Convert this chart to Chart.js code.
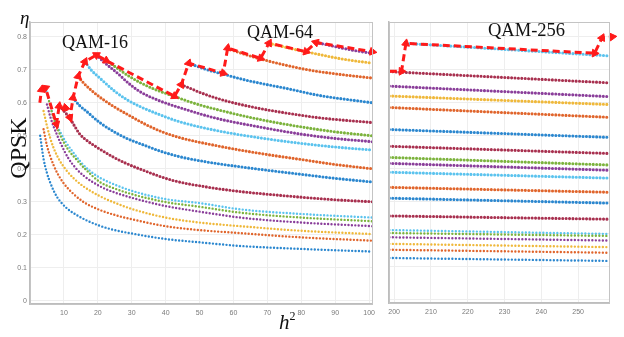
<!DOCTYPE html>
<html><head><meta charset="utf-8">
<script src="https://cdn.jsdelivr.net/npm/chart.js@4.4.1/dist/chart.umd.min.js"></script>
<style>
html,body{margin:0;padding:0;background:#fff;}
#wrap{position:relative;width:624px;height:337px;overflow:hidden;background:#fff;}
canvas{position:absolute;top:0;}
.t{position:absolute;font-family:"Liberation Serif","DejaVu Serif",serif;color:#111;white-space:nowrap;line-height:1;}
</style></head><body>
<div id="wrap">
<canvas id="left" width="380" height="337" style="left:0"></canvas>
<canvas id="right" width="244" height="337" style="left:380px"></canvas>
<div class="t" style="left:20px;top:8px;font-size:19px;font-style:italic;">η</div>
<div class="t" style="left:-22px;top:136px;width:80px;height:24px;font-size:24px;text-align:center;transform:rotate(-90deg);">QPSK</div>
<div class="t" style="left:62px;top:33px;font-size:18px;">QAM-16</div>
<div class="t" style="left:247px;top:23px;font-size:18px;">QAM-64</div>
<div class="t" style="left:488px;top:21px;font-size:18.5px;">QAM-256</div>
<div class="t" style="left:279px;top:310px;font-size:21px;"><i>h</i><span style="font-size:12px;vertical-align:9px;">2</span></div>
</div>
<script>
// ---- tick values ----
const tickXLeft = [10,20,30,40,50,60,70,80,90,100];
const tickXRight = [200,210,220,230,240,250];
const tickY = [0,0.1,0.2,0.3,0.4,0.5,0.6,0.7,0.8];
const tickYLabels = ['0','0.1','0.2','0.3','0.4','0.5','0.6','0.7','0.8'];

// ---- left panel: QPSK curves [h^2, eta] ----
const qpskBlue = [[3,0.50],[4,0.43],[5,0.387],[6,0.357],[7,0.333],[8,0.314],[9,0.30],[11,0.279],[14,0.258],[17,0.242],[20.6,0.227],[25,0.214],[30.4,0.203],[40,0.187],[50,0.177],[62,0.166],[80,0.157],[101,0.149]];
const qpskOrange = [[4,0.52],[5,0.47],[6,0.437],[7,0.41],[8,0.388],[10,0.355],[13,0.322],[16,0.298],[20.6,0.275],[25,0.26],[30.4,0.246],[40,0.226],[50,0.214],[62,0.205],[80,0.192],[101,0.182]];
const qpskYellow = [[4,0.575],[5,0.53],[6,0.492],[7,0.462],[8.8,0.424],[11,0.392],[13,0.37],[15.7,0.347],[20.6,0.317],[25,0.297],[30.4,0.277],[40,0.252],[50,0.237],[62,0.226],[80,0.212],[101,0.202]];
const qpskPurple = [[5,0.595],[6,0.557],[7,0.527],[8,0.502],[9,0.478],[11.3,0.432],[13.5,0.402],[15.7,0.38],[20.6,0.347],[25,0.328],[30.4,0.311],[40,0.287],[50,0.27],[62,0.252],[80,0.237],[101,0.226]];
const qpskGreen = [[5.6,0.605],[6.5,0.57],[7.5,0.538],[9,0.50],[11,0.462],[13.7,0.428],[16.5,0.397],[20.6,0.36],[25,0.34],[30.4,0.322],[40,0.299],[50,0.285],[62,0.267],[80,0.252],[101,0.241]];
const qpskLightBlue = [[4.6,0.645],[5.5,0.61],[6.5,0.572],[7.8,0.535],[9,0.51],[10.5,0.482],[12.5,0.453],[15,0.42],[17.5,0.395],[20.6,0.373],[25,0.352],[30.4,0.332],[40,0.308],[50,0.296],[62,0.277],[80,0.263],[101,0.252]];

// ---- left panel: QAM-16 curves ----
const qam16DarkRed = [[8.8,0.59],[10,0.575],[11.8,0.553],[13,0.532],[14.7,0.505],[17,0.484],[19.6,0.466],[24.5,0.436],[28,0.418],[33,0.397],[42,0.365],[52,0.345],[62,0.331],[72,0.321],[81,0.313],[90,0.306],[101,0.30]];
const qam16Blue = [[12.7,0.615],[14.5,0.593],[16.7,0.574],[20.6,0.54],[25.5,0.508],[29,0.49],[33.3,0.473],[38,0.455],[44,0.437],[52,0.421],[62,0.406],[72,0.393],[81,0.382],[90,0.371],[101,0.36]];
const qam16Orange = [[14.3,0.678],[16,0.658],[19.6,0.625],[24.5,0.59],[29.4,0.561],[34,0.535],[39,0.512],[44,0.495],[55,0.47],[67,0.448],[80,0.428],[90,0.413],[101,0.40]];
const qam16LightBlue = [[16.3,0.724],[18,0.70],[20.6,0.675],[25,0.635],[28.5,0.61],[32.4,0.589],[38,0.565],[44,0.543],[55,0.516],[67.6,0.494],[80,0.477],[90,0.466],[101,0.457]];
const qam16Purple = [[19.6,0.745],[22,0.722],[26,0.688],[29,0.66],[32.4,0.634],[38,0.607],[44,0.586],[55,0.553],[67.6,0.527],[80,0.505],[90,0.492],[101,0.482]];
const qam16Green = [[22.5,0.728],[26,0.703],[29,0.682],[32.4,0.662],[37,0.64],[42.2,0.621],[48,0.60],[55,0.58],[67.6,0.55],[80,0.527],[90,0.512],[101,0.50]];

// ---- left panel: QAM-64 curves ----
const qam64DarkRed = [[44.6,0.655],[47,0.645],[50,0.632],[55,0.614],[60,0.60],[67.6,0.583],[75,0.57],[85,0.555],[101,0.54]];
const qam64Blue = [[46.8,0.72],[50,0.708],[53,0.698],[57,0.687],[62,0.673],[67.6,0.66],[75,0.645],[85,0.623],[101,0.60]];
const qam64Orange = [[58.3,0.765],[61,0.755],[64,0.745],[68,0.733],[75,0.715],[82,0.70],[90,0.688],[101,0.675]];
const qam64Yellow = [[70.5,0.78],[74,0.772],[78,0.762],[81.4,0.755],[86,0.745],[92,0.733],[101,0.72]];
const qam64Purple = [[84.3,0.783],[88,0.775],[92,0.766],[96,0.758],[101,0.75]];

// ---- left panel: envelope (red dashed with arrows) ----
const envelopeLeft = [[2.9,0.60],[3.4,0.64],[4.6,0.645],[7.8,0.535],[8.6,0.59],[10.5,0.585],[11.8,0.555],[12.7,0.615],[14.2,0.68],[16.2,0.725],[19.6,0.745],[22.5,0.728],[42.6,0.62],[44.6,0.655],[46.8,0.72],[57,0.69],[58.3,0.766],[68,0.735],[70.5,0.781],[81.4,0.755],[84.3,0.783],[101,0.755]];

// ---- right panel curves ----
const rQpskBlue = [[198.7,0.127],[258.4,0.118]];
const rQpskOrange = [[198.7,0.152],[258.4,0.143]];
const rQpskYellow = [[198.7,0.17],[258.4,0.16]];
const rQpskPurple = [[198.7,0.19],[258.4,0.18]];
const rQpskGreen = [[198.7,0.203],[258.4,0.194]];
const rQpskLightBlue = [[198.7,0.212],[258.4,0.20]];
const rQam16DarkRed = [[198.7,0.255],[258.4,0.245]];
const rQam16Blue = [[198.7,0.309],[258.4,0.294]];
const rQam16Orange = [[198.7,0.342],[258.4,0.327]];
const rQam16LightBlue = [[198.7,0.388],[258.4,0.37]];
const rQam16Purple = [[198.7,0.415],[258.4,0.394]];
const rQam16Green = [[198.7,0.433],[258.4,0.41]];
const rQam64DarkRed = [[198.7,0.467],[258.4,0.445]];
const rQam64Blue = [[198.7,0.518],[258.4,0.494]];
const rQam64Orange = [[198.7,0.585],[258.4,0.555]];
const rQam64Yellow = [[198.7,0.62],[258.4,0.594]];
const rQam64Purple = [[198.7,0.65],[258.4,0.618]];
const rQam64DarkRed2 = [[198.7,0.694],[258.4,0.66]];
const rQam256LightBlue = [[203.4,0.78],[258.4,0.742]];
const envelopeRight = [[198.8,0.695],[202,0.695],[203.2,0.78],[254.5,0.75],[256.5,0.797],[259.3,0.80]];

// ---- styles ----
const C = {blue:'#2b87cf', orange:'#e0652c', yellow:'#efb83a', purple:'#8a3e9a', green:'#7cb33d', lblue:'#5bc3ee', dred:'#a8304f'};
const toXY = pts => pts.map(p => ({x:p[0], y:p[1]}));

function curve(pts, color, bold, gap){
  return {data: toXY(pts), borderColor: color, borderWidth: bold ? 3.1 : 2.4,
    borderDash: [0, gap], borderCapStyle: 'round', pointRadius: 0,
    cubicInterpolationMode: 'monotone', tension: 0.4, fill: false, order: 1};
}
function envelope(pts){
  return {data: toXY(pts), borderColor: '#ff1a1a', borderWidth: 3, borderDash: [7,4],
    borderCapStyle: 'butt', tension: 0, fill: false, clip: false, order: -1,
    pointStyle: 'triangle', pointBackgroundColor: '#ff1a1a', pointBorderColor: '#ff1a1a', pointBorderWidth: 1,
    pointRadius: ctx => (ctx.dataIndex === 0 ? 0 : 4.5),
    pointRotation: ctx => {
      const d = ctx.dataset && ctx.dataset.data; const i = ctx.dataIndex;
      if (!d || i === undefined || d.length < 2) return 0;
      const a = d[i === 0 ? 0 : i - 1], b = d[i === 0 ? 1 : i];
      const xs = ctx.chart.scales.x, ys = ctx.chart.scales.y;
      const dx = xs.getPixelForValue(b.x) - xs.getPixelForValue(a.x);
      const dy = ys.getPixelForValue(b.y) - ys.getPixelForValue(a.y);
      return Math.atan2(dx, -dy) * 180 / Math.PI;
    }};
}

const boxPlugin = {id:'box', afterDraw(chart){
  const a = chart.chartArea, g = chart.ctx; g.save();
  g.strokeStyle = '#c4c4c4'; g.lineWidth = 1;
  g.strokeRect(Math.round(a.left)+0.5, Math.round(a.top)+0.5, Math.round(a.right-a.left), Math.round(a.bottom-a.top));
  g.restore();
}};

function scalesFor(xMin, xMax, xTicks, yW, xH, showY){
  const tickFont = {size: 7, family: 'Liberation Sans, Arial, sans-serif'};
  return {
    x: {type:'linear', min:xMin, max:xMax,
      afterBuildTicks: s => { s.ticks = xTicks.map(v => ({value:v})); },
      afterFit: s => { s.height = xH; },
      grid: {color:'#eeeeee', drawTicks:false}, border: {color:'#bdbdbd', width:1.5},
      ticks: {font: tickFont, color:'#7a7a7a', padding:5, maxRotation:0, autoSkip:false, callback: v => String(v)}},
    y: {type:'linear', min:-0.01, max:0.845,
      afterBuildTicks: s => { s.ticks = tickY.map(v => ({value:v})); },
      afterFit: s => { s.width = yW; },
      grid: {color:'#eeeeee', drawTicks:false}, border: {color:'#bdbdbd', width:1.5},
      ticks: {display: showY, font: tickFont, color:'#7a7a7a', padding:3, autoSkip:false,
        callback: (v, i) => tickYLabels[i]}}
  };
}

const common = {responsive:false, animation:false, events:[],
  plugins:{legend:{display:false}, tooltip:{enabled:false}}};

new Chart(document.getElementById('left'), {
  type:'line',
  data:{datasets:[
    envelope(envelopeLeft),
    curve(qpskBlue, C.blue, false, 3.4), curve(qpskOrange, C.orange, false, 3.4),
    curve(qpskYellow, C.yellow, false, 3.4), curve(qpskPurple, C.purple, false, 3.4),
    curve(qpskGreen, C.green, false, 3.4), curve(qpskLightBlue, C.lblue, false, 3.4),
    curve(qam16DarkRed, C.dred, true, 3.4), curve(qam16Blue, C.blue, true, 3.4),
    curve(qam16Orange, C.orange, true, 3.4), curve(qam16LightBlue, C.lblue, true, 3.4),
    curve(qam16Purple, C.purple, true, 3.4), curve(qam16Green, C.green, true, 3.4),
    curve(qam64DarkRed, C.dred, true, 3.4), curve(qam64Blue, C.blue, true, 3.4),
    curve(qam64Orange, C.orange, true, 3.4), curve(qam64Yellow, C.yellow, true, 3.4),
    curve(qam64Purple, C.purple, true, 3.4)
  ]},
  options: Object.assign({}, common, {
    layout:{padding:{left:0, top:22, right:7, bottom:0}},
    scales: scalesFor(0, 101, tickXLeft, 30, 33, true)
  }),
  plugins:[boxPlugin]
});

new Chart(document.getElementById('right'), {
  type:'line',
  data:{datasets:[
    envelope(envelopeRight),
    curve(rQpskBlue, C.blue, false, 3.5), curve(rQpskOrange, C.orange, false, 3.5),
    curve(rQpskYellow, C.yellow, false, 3.5), curve(rQpskPurple, C.purple, false, 3.5),
    curve(rQpskGreen, C.green, false, 3.5), curve(rQpskLightBlue, C.lblue, false, 3.5),
    curve(rQam16DarkRed, C.dred, true, 3.4), curve(rQam16Blue, C.blue, true, 3.4),
    curve(rQam16Orange, C.orange, true, 3.4), curve(rQam16LightBlue, C.lblue, true, 3.4),
    curve(rQam16Purple, C.purple, true, 3.4), curve(rQam16Green, C.green, true, 3.4),
    curve(rQam64DarkRed, C.dred, true, 3.4), curve(rQam64Blue, C.blue, true, 3.4),
    curve(rQam64Orange, C.orange, true, 3.4), curve(rQam64Yellow, C.yellow, true, 3.4),
    curve(rQam64Purple, C.purple, true, 3.4), curve(rQam64DarkRed2, C.dred, true, 3.4),
    curve(rQam256LightBlue, C.lblue, true, 3.4)
  ]},
  options: Object.assign({}, common, {
    layout:{padding:{left:0, top:22, right:15, bottom:0}},
    scales: scalesFor(198.6, 258.4, tickXRight, 9, 34, false)
  }),
  plugins:[boxPlugin]
});
</script>
</body></html>
